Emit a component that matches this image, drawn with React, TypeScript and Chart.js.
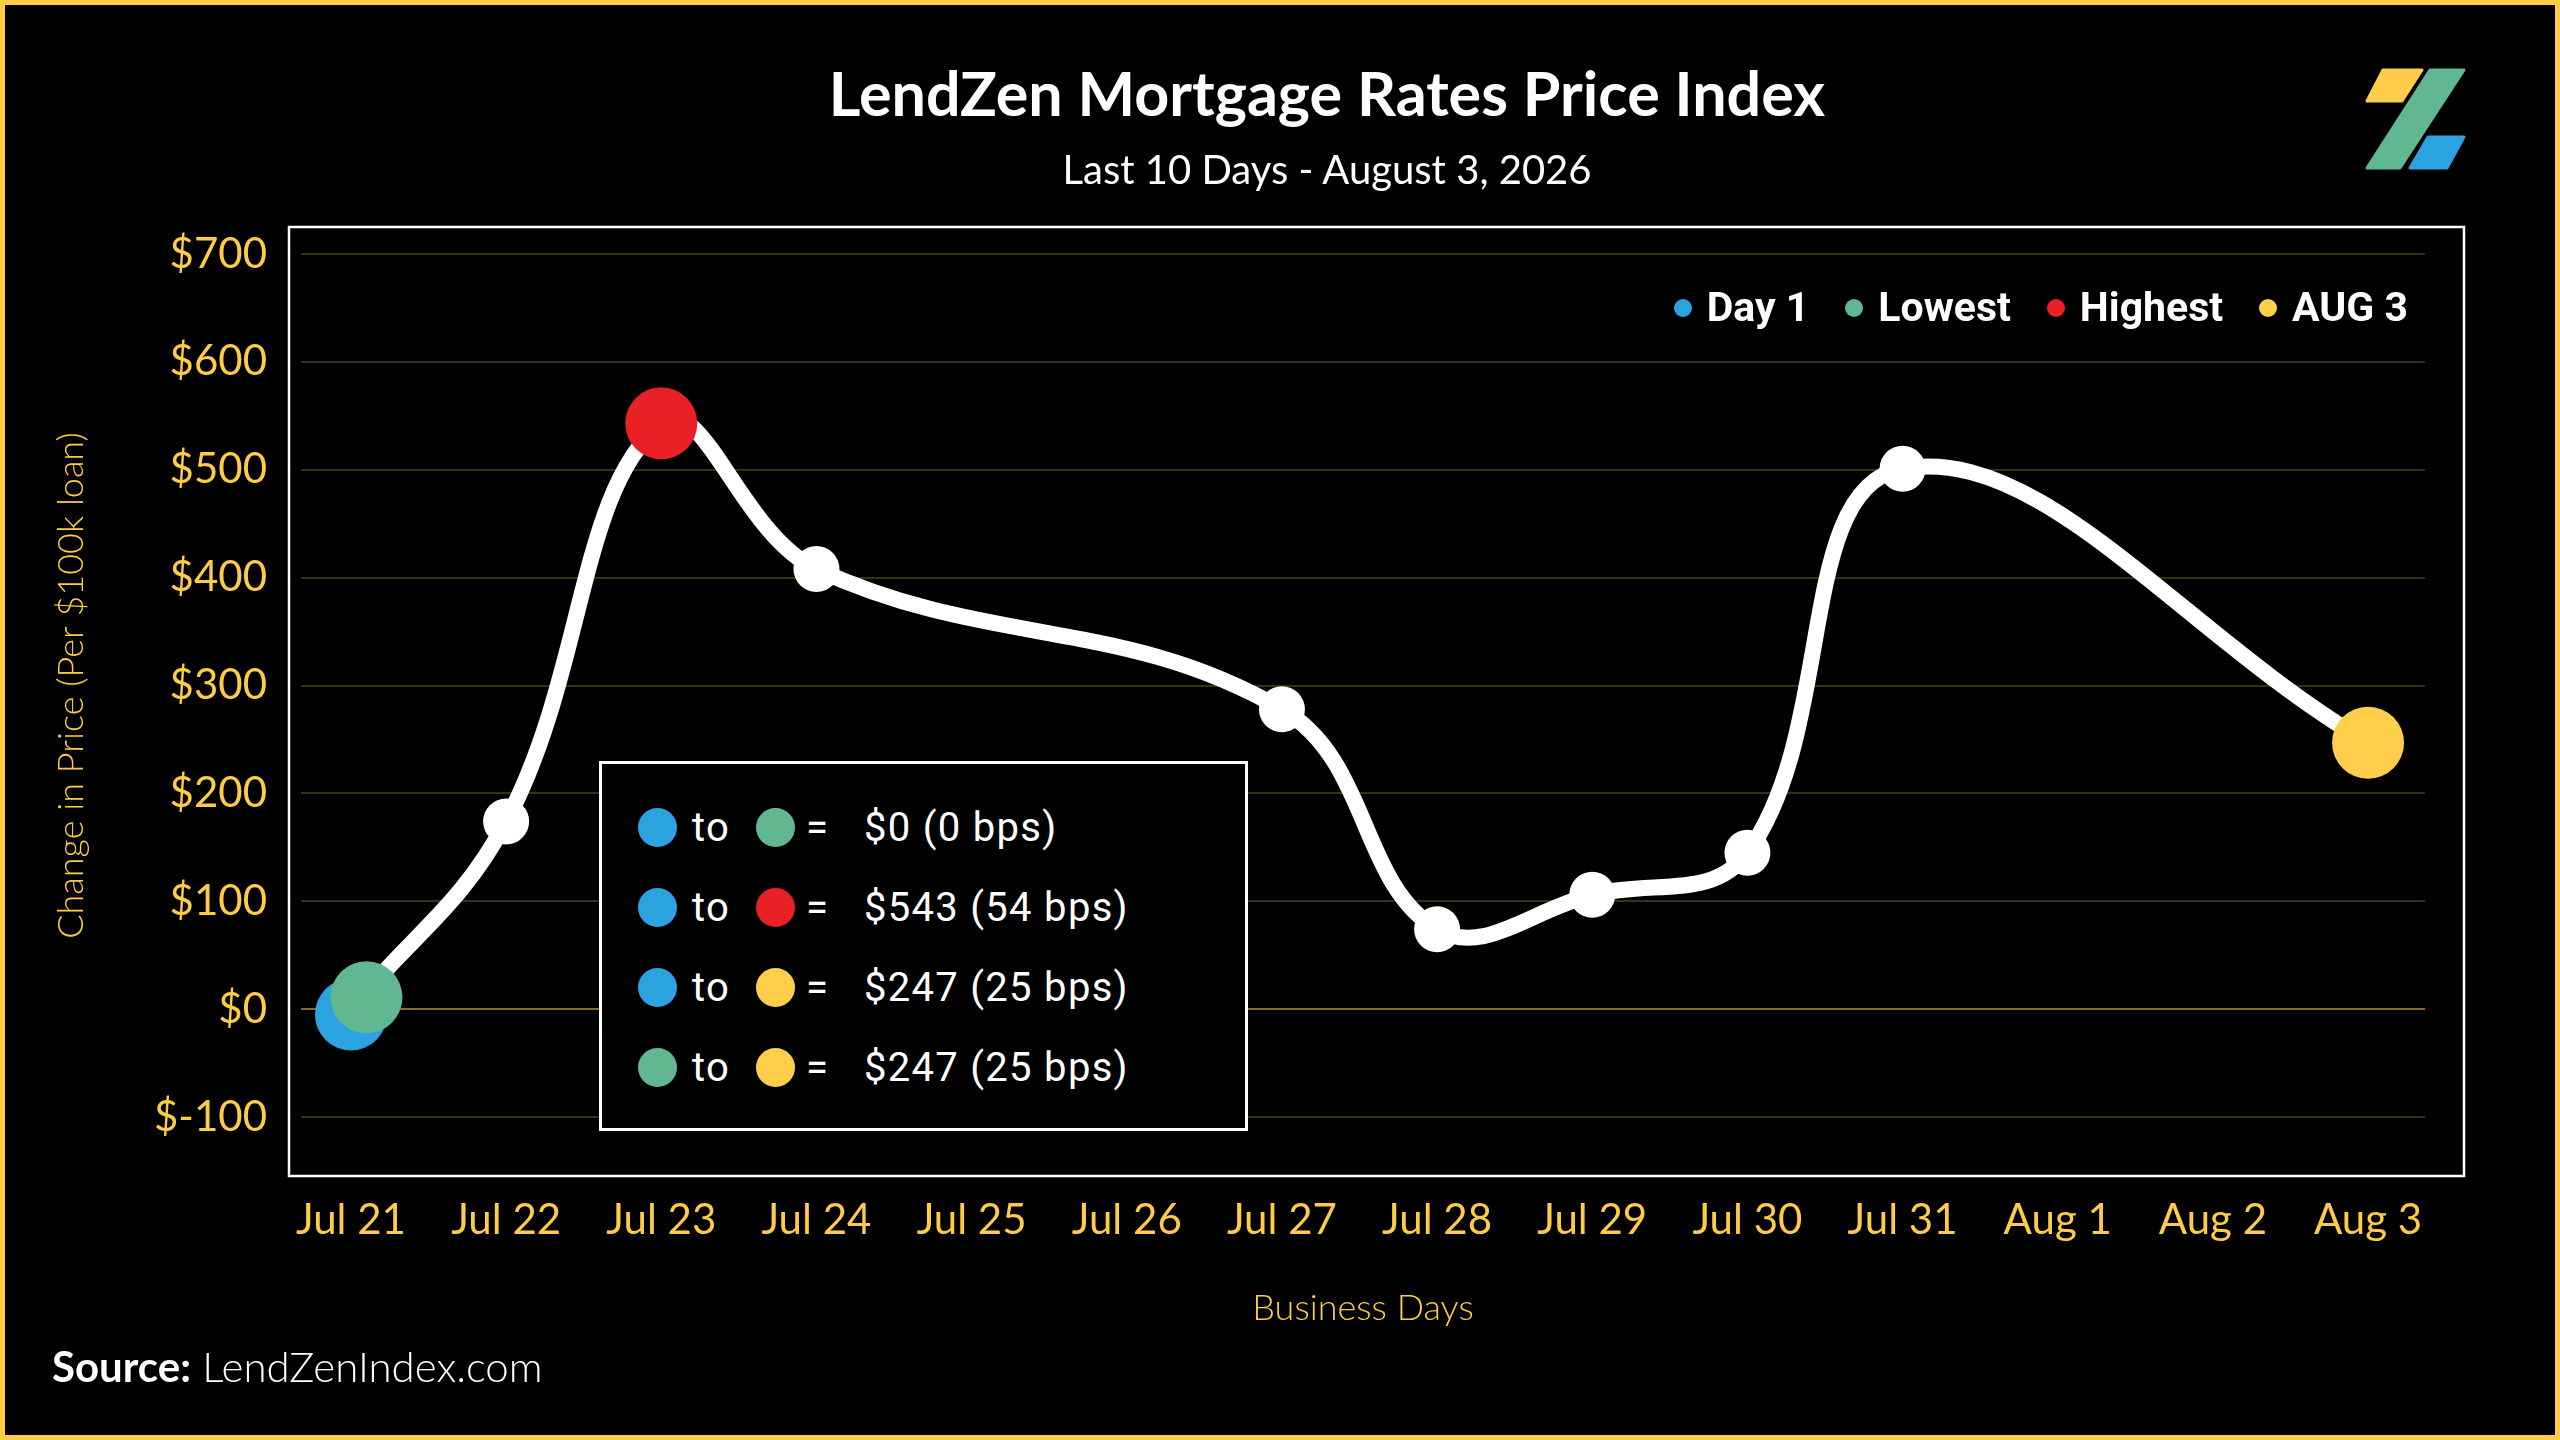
import React, { useEffect, useRef } from 'react';
import Chart from 'chart.js/auto';

const categories = ['Jul 21', 'Jul 22', 'Jul 23', 'Jul 24', 'Jul 25', 'Jul 26', 'Jul 27', 'Jul 28', 'Jul 29', 'Jul 30', 'Jul 31', 'Aug 1', 'Aug 2', 'Aug 3'];
const indexValues: (number | null)[] = [0, 174, 543, 408, null, null, 278, 74, 106, 145, 501, null, null, 247];

const markerLabels = ['Day 1', 'Lowest', 'Highest', 'AUG 3'];
const markerColors = ['#2ba3e0', '#62b793', '#ea2027', '#ffcf4b'];
const markerX = [0, 0.1, 2, 13];
const markerY = [-5, 11, 543, 247];
const markerOrder = [1, 0, 2, 3];

const comparisonFrom = [0, 0, 0, 1];
const comparisonTo = [1, 2, 3, 3];
const comparisonText = ['$0 (0 bps)', '$543 (54 bps)', '$247 (25 bps)', '$247 (25 bps)'];

const yMin = -100;
const yMax = 700;
const yStep = 100;
const xMin = -0.322;
const xMax = 13.367;

const YELLOW = '#ffcc44';
const TICK_FONT = 'Lato';

const framePlugin = {
  id: 'frame',
  beforeDatasetsDraw(chart: any) {
    const { ctx, chartArea: a } = chart;
    ctx.save();
    ctx.strokeStyle = '#ffffff';
    ctx.lineWidth = 2.5;
    ctx.strokeRect(a.left - 12, a.top - 27, a.right - a.left + 51, a.bottom - a.top + 86);
    ctx.restore();
  },
};

export default function App() {
  const canvasRef = useRef<HTMLCanvasElement>(null);

  useEffect(() => {
    document.body.style.margin = '0';
    document.body.style.background = '#000';
    const markerSets = markerLabels.map((label, i) => ({
      type: 'line' as const,
      label,
      data: [{ x: markerX[i], y: markerY[i] }],
      showLine: false,
      pointRadius: 36,
      pointHoverRadius: 36,
      pointBackgroundColor: markerColors[i],
      pointBorderWidth: 0,
      borderWidth: 0,
      order: markerOrder[i],
      clip: false as any,
    }));
    const lineSet = {
      type: 'line' as const,
      label: 'Index',
      data: categories.map((_, i) => ({ x: i, y: indexValues[i] })),
      spanGaps: true,
      borderColor: '#ffffff',
      borderWidth: 16,
      tension: 0.4,
      pointRadius: 23,
      pointHoverRadius: 23,
      pointBackgroundColor: '#ffffff',
      pointBorderWidth: 0,
      fill: false,
      order: 10,
      clip: false as any,
    };
    const chart = new Chart(canvasRef.current!, {
      type: 'line',
      data: { datasets: [...markerSets, lineSet] as any },
      options: {
        responsive: false,
        animation: false,
        layout: { padding: { left: 40, right: 135, top: 254, bottom: 100 } },
        plugins: { legend: { display: false }, tooltip: { enabled: false } },
        scales: {
          x: {
            type: 'linear',
            min: xMin,
            max: xMax,
            afterBuildTicks: (axis: any) => {
              axis.ticks = categories.map((_, i) => ({ value: i }));
            },
            afterFit: (scale: any) => {
              scale.height = 223;
            },
            grid: { display: false },
            border: { display: false },
            ticks: {
              autoSkip: false,
              maxRotation: 0,
              minRotation: 0,
              padding: 70,
              color: YELLOW,
              font: { family: TICK_FONT, size: 42, weight: 400 },
              callback: (v: any) => categories[Math.round(Number(v))] ?? '',
            },
            title: {
              display: true,
              text: 'Business Days',
              color: YELLOW,
              font: { family: 'Lato', size: 36, weight: 300 },
              padding: { top: 0, bottom: 10 },
            },
          },
          y: {
            type: 'linear',
            min: yMin,
            max: yMax,
            afterFit: (scale: any) => {
              scale.width = 261;
            },
            grid: {
              drawTicks: false,
              lineWidth: 2,
              color: (ctx: any) => (ctx.tick && ctx.tick.value === 0 ? '#8a6d24' : '#3b2f13'),
            },
            border: { display: false },
            ticks: {
              stepSize: yStep,
              padding: 34,
              color: YELLOW,
              font: { family: TICK_FONT, size: 42, weight: 400 },
              callback: (v: any) => '$' + v,
            },
            title: {
              display: true,
              text: 'Change in Price (Per $100k loan)',
              color: YELLOW,
              font: { family: 'Lato', size: 36, weight: 300 },
              padding: { top: 10, bottom: 0 },
            },
          },
        },
      } as any,
      plugins: [framePlugin],
    });
    let alive = true;
    (document as any).fonts?.ready?.then(() => {
      if (alive) chart.update();
    });
    return () => {
      alive = false;
      chart.destroy();
    };
  }, []);

  const dot = (color: string, size: number): React.CSSProperties => ({
    width: size,
    height: size,
    borderRadius: '50%',
    background: color,
    flex: '0 0 auto',
  });

  return (
    <div style={{ position: 'absolute', left: 0, top: 0, width: 2560, height: 1440, background: '#000', overflow: 'hidden' }}>
      <canvas ref={canvasRef} width={2560} height={1440} style={{ position: 'absolute', left: 0, top: 0, width: 2560, height: 1440 }} />

      <div style={{ position: 'absolute', left: 1327, top: 62, transform: 'translateX(-50%)', whiteSpace: 'nowrap', color: '#fff', fontFamily: 'Lato', fontWeight: 700, fontSize: 61, lineHeight: '61px' }}>
        LendZen Mortgage Rates Price Index
      </div>
      <div style={{ position: 'absolute', left: 1327, top: 149, transform: 'translateX(-50%)', whiteSpace: 'nowrap', color: '#fff', fontFamily: 'Lato', fontWeight: 400, fontSize: 40, lineHeight: '40px' }}>
        Last 10 Days - August 3, 2026
      </div>

      <svg style={{ position: 'absolute', left: 2360, top: 60 }} width={112} height={116} viewBox="0 0 112 116">
        <polygon points="23,10 62,10 42,41 7,41" fill="#ffcd4a" stroke="#ffcd4a" strokeWidth={3} strokeLinejoin="round" />
        <polygon points="70,10 104,10 40,108 7,108" fill="#62b793" stroke="#62b793" strokeWidth={3} strokeLinejoin="round" />
        <polygon points="68,77 104,77 87,108 50,108" fill="#2ba3e0" stroke="#2ba3e0" strokeWidth={3} strokeLinejoin="round" />
      </svg>

      <div style={{ position: 'absolute', right: 152, top: 287, display: 'flex', alignItems: 'center', gap: 36, color: '#fff', fontFamily: 'Roboto', fontWeight: 700, fontSize: 41, lineHeight: '41px', whiteSpace: 'nowrap' }}>
        {markerLabels.map((label, i) => (
          <div key={label} style={{ display: 'flex', alignItems: 'center' }}>
            <div style={{ ...dot(markerColors[i], 18), marginRight: 15 }} />
            <span>{label}</span>
          </div>
        ))}
      </div>

      <div style={{ position: 'absolute', left: 599, top: 761, width: 649, height: 370, boxSizing: 'border-box', border: '3px solid #fff', background: '#000', paddingTop: 23, paddingLeft: 35.5, color: '#fff', fontFamily: 'Roboto', fontWeight: 400, fontSize: 40, letterSpacing: 1.3 }}>
        {comparisonText.map((text, r) => (
          <div key={r} style={{ display: 'flex', alignItems: 'center', height: 80, whiteSpace: 'nowrap' }}>
            <div style={dot(markerColors[comparisonFrom[r]], 39)} />
            <span style={{ marginLeft: 15.5, width: 63.5 }}>to</span>
            <div style={dot(markerColors[comparisonTo[r]], 39)} />
            <span style={{ width: 69.5, paddingLeft: 11.5, boxSizing: 'border-box' }}>=</span>
            <span>{text}</span>
          </div>
        ))}
      </div>

      <div style={{ position: 'absolute', left: 52, top: 1345, whiteSpace: 'nowrap', color: '#fff', fontFamily: 'Lato', fontSize: 42, lineHeight: '42px' }}>
        <span style={{ fontWeight: 700 }}>Source:</span>
        <span style={{ fontWeight: 300 }}> LendZenIndex.com</span>
      </div>

      <div style={{ position: 'absolute', left: 0, top: 0, width: 2560, height: 1440, boxSizing: 'border-box', border: `5px solid ${YELLOW}`, pointerEvents: 'none' }} />
    </div>
  );
}
